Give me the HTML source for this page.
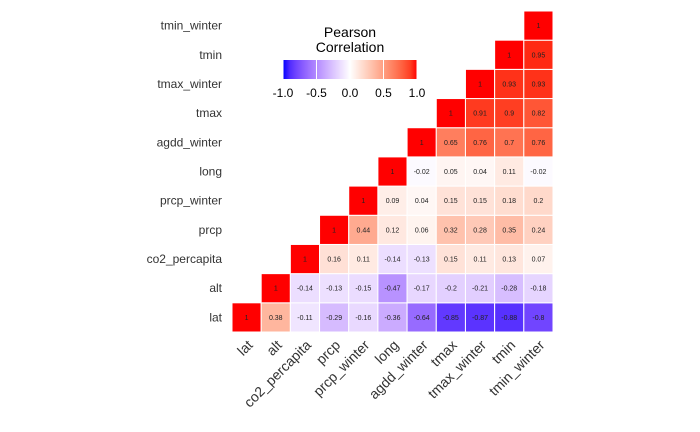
<!DOCTYPE html>
<html><head><meta charset="utf-8"><style>
body{margin:0;background:#fff;}
svg{display:block;font-family:"Liberation Sans",sans-serif;}
</style></head><body>
<svg id="chart" width="700" height="432">
<defs><linearGradient id="lg" x1="0" x2="1" y1="0" y2="0"></linearGradient></defs>
<g id="cells"></g>
<g id="ylab"></g>
<g id="xlab"></g>
<g id="legend">
<text x="350" y="37" text-anchor="middle" font-size="14" fill="#000">Pearson</text>
<text x="350" y="52" text-anchor="middle" font-size="14" fill="#000">Correlation</text>
<rect x="283" y="60" width="134" height="19" fill="url(#lg)"></rect>
</g>
</svg>
<script>
const vars = ["lat","alt","co2_percapita","prcp","prcp_winter","long","agdd_winter","tmax","tmax_winter","tmin","tmin_winter"];
const rowLat = [1,0.38,-0.11,-0.29,-0.16,-0.36,-0.64,-0.85,-0.87,-0.88,-0.8];
const rowAlt = [1,-0.14,-0.13,-0.15,-0.47,-0.17,-0.2,-0.21,-0.28,-0.18];
const rowCo2 = [1,0.16,0.11,-0.14,-0.13,0.15,0.11,0.13,0.07];
const rowPrcp = [1,0.44,0.12,0.06,0.32,0.28,0.35,0.24];
const rowPrcpW = [1,0.09,0.04,0.15,0.15,0.18,0.2];
const rowLong = [1,-0.02,0.05,0.04,0.11,-0.02];
const rowAgdd = [1,0.65,0.76,0.7,0.76];
const rowTmax = [1,0.91,0.9,0.82];
const rowTmaxW = [1,0.93,0.93];
const rowTmin = [1,0.95];
const rowTminW = [1];
const legendTicks = [-1,-0.5,0,0.5,1];
const legendTickLabels = ["-1.0","-0.5","0.0","0.5","1.0"];
const rows = [rowLat,rowAlt,rowCo2,rowPrcp,rowPrcpW,rowLong,rowAgdd,rowTmax,rowTmaxW,rowTmin,rowTminW];

const NS="http://www.w3.org/2000/svg";
const x0=232, pitch=321/11, yBottom=332;
const xPos = j => x0 + j*pitch;
const yPos = i => yBottom - (i+1)*pitch;
// Lab interpolation
function toLin(c){c/=255;return c<=0.04045?c/12.92:Math.pow((c+0.055)/1.055,2.4);}
function fromLin(c){c=c<=0.0031308?12.92*c:1.055*Math.pow(c,1/2.4)-0.055;return Math.max(0,Math.min(255,Math.round(c*255)));}
function rgb2lab(r,g,b){r=toLin(r);g=toLin(g);b=toLin(b);
let X=(r*0.4124+g*0.3576+b*0.1805)/0.95047,Y=r*0.2126+g*0.7152+b*0.0722,Z=(r*0.0193+g*0.1192+b*0.9505)/1.08883;
const f=t=>t>0.008856?Math.cbrt(t):7.787*t+16/116;X=f(X);Y=f(Y);Z=f(Z);return [116*Y-16,500*(X-Y),200*(Y-Z)];}
function lab2rgb(L,a,b){let Y=(L+16)/116,X=a/500+Y,Z=Y-b/200;
const fi=t=>t*t*t>0.008856?t*t*t:(t-16/116)/7.787;X=fi(X)*0.95047;Y=fi(Y);Z=fi(Z)*1.08883;
const r=X*3.2406+Y*-1.5372+Z*-0.4986,g=X*-0.9689+Y*1.8758+Z*0.0415,bb=X*0.0557+Y*-0.2040+Z*1.0570;
return `rgb(${fromLin(r)},${fromLin(g)},${fromLin(bb)})`;}
const W=rgb2lab(255,255,255),R=rgb2lab(255,0,0),B=rgb2lab(0,0,255);
function col(v){const t=Math.min(1,Math.abs(v));const e=v>=0?R:B;return lab2rgb(W[0]+(e[0]-W[0])*t,W[1]+(e[1]-W[1])*t,W[2]+(e[2]-W[2])*t);}

const cells=document.getElementById('cells');
rows.forEach((row,i)=>{row.forEach((v,k)=>{const j=i+k;
const r=document.createElementNS(NS,'rect');
r.setAttribute('x',xPos(j));r.setAttribute('y',yPos(i));r.setAttribute('width',pitch);r.setAttribute('height',pitch);
r.setAttribute('fill',col(v));r.setAttribute('stroke','#fff');r.setAttribute('stroke-width','1');


cells.appendChild(r);
const t=document.createElementNS(NS,'text');
t.setAttribute('x',xPos(j)+pitch/2);t.setAttribute('y',yPos(i)+pitch/2+2.5);t.setAttribute('text-anchor','middle');
t.setAttribute('font-size','7');t.setAttribute('fill','#222');t.textContent=String(v);


cells.appendChild(t);});});

const yl=document.getElementById('ylab'),xl=document.getElementById('xlab');
vars.forEach((v,i)=>{
const t=document.createElementNS(NS,'text');
t.setAttribute('x',222);t.setAttribute('y',yPos(i)+pitch/2+4);t.setAttribute('text-anchor','end');
t.setAttribute('font-size','12');t.setAttribute('fill','#333');t.textContent=v;


yl.appendChild(t);
const cx=xPos(i)+pitch/2+7, cy=346;
const u=document.createElementNS(NS,'text');
u.setAttribute('x',cx);u.setAttribute('y',cy);u.setAttribute('text-anchor','end');
u.setAttribute('font-size','14');u.setAttribute('fill','#333');u.setAttribute('transform',`rotate(-45 ${cx} ${cy})`);u.textContent=v;


xl.appendChild(u);});

const lg=document.getElementById('lg');
for(let s=0;s<=20;s++){const v=-1+s/10;const st=document.createElementNS(NS,'stop');st.setAttribute('offset',(s/20));st.setAttribute('stop-color',col(v));lg.appendChild(st);}
const leg=document.getElementById('legend');
const lx=v=>283+(v+1)/2*134;
legendTicks.forEach((v,k)=>{
const l=document.createElementNS(NS,'line');
l.setAttribute('x1',lx(v));l.setAttribute('x2',lx(v));l.setAttribute('y1',60);l.setAttribute('y2',79);
l.setAttribute('stroke','#fff');l.setAttribute('stroke-width','1');


leg.appendChild(l);
const t=document.createElementNS(NS,'text');
t.setAttribute('x',lx(v));t.setAttribute('y',97);t.setAttribute('text-anchor','middle');t.setAttribute('font-size','12');t.setAttribute('fill','#000');
t.textContent=legendTickLabels[k];


leg.appendChild(t);});
</script>
</body></html>
